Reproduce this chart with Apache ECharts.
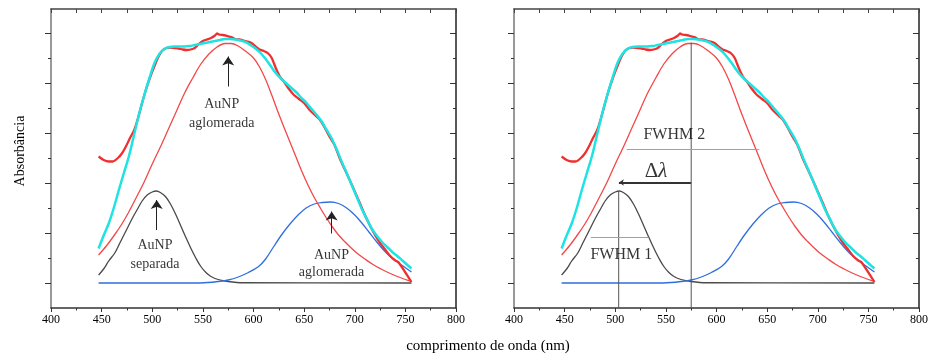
<!DOCTYPE html>
<html><head><meta charset="utf-8">
<script src="https://cdn.jsdelivr.net/npm/echarts@6/dist/echarts.min.js"></script>
<style>html,body{margin:0;padding:0;background:#fff}#c{width:936px;height:356px}</style>
</head><body><div id="c"></div>
<script>
// ---- data (wavelength nm, absorbance in arbitrary units) ----
const xTickLabels = [400, 450, 500, 550, 600, 650, 700, 750, 800];
const yMajorTicks = [0, 1, 2, 3, 4, 5];
const yMinorTicks = [0.5, 1.5, 2.5, 3.5, 4.5];

const measuredX = [447,452,457,461,466,470,474,478,482,486,490,494,498,502,506,510,514,518,522,526,530,534,538,542,546,550,554,558,562,564,566,570,574,578,582,586,590,594,598,602,606,610,614,618,622,626,630,635,640,645,650,655,660,665,670,675,680,685,690,695,700,705,710,715,720,725,730,735,740,743,756];
const measuredY = [2.53,2.46,2.43,2.43,2.50,2.59,2.73,2.90,3.05,3.30,3.60,3.88,4.12,4.33,4.52,4.65,4.70,4.71,4.70,4.69,4.67,4.66,4.67,4.70,4.78,4.84,4.87,4.90,4.95,4.99,4.97,4.96,4.94,4.92,4.88,4.87,4.85,4.83,4.80,4.73,4.67,4.64,4.60,4.50,4.30,4.13,4.03,3.88,3.76,3.68,3.60,3.47,3.37,3.28,3.12,2.93,2.76,2.50,2.28,2.06,1.83,1.60,1.36,1.15,0.96,0.80,0.67,0.54,0.45,0.42,0.02];

const fitSumX = [447,452,457,462,467,472,477,482,487,492,497,502,507,512,517,522,527,532,537,542,547,552,557,562,567,572,577,582,587,592,597,602,607,612,617,622,627,632,637,642,647,652,657,662,667,672,677,682,687,692,697,702,707,712,717,722,727,732,737,742,747,752,756];
const fitSumY = [0.69,0.95,1.19,1.50,1.86,2.20,2.54,2.96,3.38,3.75,4.08,4.39,4.58,4.68,4.72,4.73,4.73,4.73,4.74,4.76,4.78,4.80,4.82,4.84,4.86,4.88,4.88,4.87,4.85,4.82,4.76,4.69,4.60,4.48,4.34,4.20,4.09,4.00,3.91,3.82,3.71,3.61,3.49,3.37,3.24,3.07,2.90,2.68,2.43,2.20,1.96,1.72,1.48,1.28,1.08,0.94,0.82,0.72,0.62,0.54,0.45,0.36,0.29];

const aggX = [447,455,463,470,476,484,492,500,508,516,524,532,540,548,556,564,572,578,584,592,600,606,612,618,624,630,636,642,648,654,660,666,672,678,684,690,696,702,710,718,726,734,742,750,756];
const aggY = [0.56,0.75,0.97,1.18,1.39,1.70,2.02,2.38,2.72,3.08,3.44,3.80,4.10,4.38,4.58,4.72,4.79,4.79,4.75,4.64,4.50,4.32,4.07,3.76,3.43,3.12,2.82,2.52,2.22,1.95,1.71,1.50,1.30,1.12,0.96,0.83,0.71,0.60,0.48,0.37,0.28,0.20,0.13,0.07,0.03];

const sepX = [447,452,457,463,468,472,476,481,486,490,495,500,504,508,513,518,523,528,533,538,543,548,553,558,565,575,590,756];
const sepY = [0.16,0.28,0.44,0.60,0.80,0.96,1.12,1.32,1.50,1.64,1.76,1.82,1.84,1.81,1.73,1.58,1.38,1.15,0.92,0.70,0.50,0.33,0.21,0.13,0.07,0.03,0.005,0];

const agg2X = [447,540,555,565,575,585,595,605,612,620,628,636,644,652,660,668,676,684,692,700,707,714,721,728,735,742,749,756];
const agg2Y = [0,0,0.01,0.03,0.06,0.12,0.21,0.33,0.48,0.73,0.97,1.18,1.36,1.50,1.58,1.61,1.62,1.59,1.50,1.36,1.20,1.02,0.84,0.67,0.53,0.42,0.32,0.22];

// annotations (data coordinates)
const leftTexts = [[568.6,3.57,'AuNP'],[568.6,3.19,'aglomerada'],[502.7,0.76,'AuNP'],[502.7,0.37,'separada'],[677,0.56,'AuNP'],[677,0.21,'aglomerada']];
const leftArrows = [[[575,3.93],[575,4.53]],[[504.4,1.06],[504.4,1.66]],[[677.2,0.99],[677.2,1.43]]];
const rightTexts = [[558.3,2.97,'FWHM 2'],[506,0.56,'FWHM 1']];
const deltaText = [[540.2,2.23,'Δλ']];
const fwhmLines = [[[511.3,2.67],[642.3,2.67]],[[476,0.91],[532.9,0.91]]];
const peakLines = [[[503.4,-0.5],[503.4,1.83]],[[575,-0.5],[575,4.81]]];
const deltaArrow = [[[575,2.01],[503.6,2.01]]];

// ---- chart ----
const serif = "'Liberation Serif','DejaVu Serif',serif";
const pair = (xs, ys) => xs.map((x, i) => [x, ys[i]]);
const chart = echarts.init(document.getElementById('c'), null, {renderer: 'canvas'});

const grids = [
  {left: 51, top: 9, width: 405, height: 299, outerBoundsMode: 'none'},
  {left: 514, top: 9, width: 405, height: 299, outerBoundsMode: 'none'}
];
const xAxes = [], yAxes = [];
[0, 1].forEach(g => {
  xAxes.push({type: 'value', gridIndex: g, position: 'bottom', min: 400, max: 800, interval: 50,
    axisLine: {show: true, onZero: false, lineStyle: {color: '#333', width: 1.5}},
    axisTick: {show: true, length: 4, lineStyle: {color: '#333', width: 1}},
    minorTick: {show: true, splitNumber: 2, length: 2.5, lineStyle: {color: '#333', width: 1}},
    axisLabel: {show: true, customValues: xTickLabels, showMinLabel: true, showMaxLabel: true, margin: 6, fontSize: 12, color: '#000', fontFamily: serif},
    splitLine: {show: false}, minorSplitLine: {show: false}});
  xAxes.push({type: 'value', gridIndex: g, position: 'top', min: 400, max: 800, interval: 25,
    axisLine: {show: true, onZero: false, lineStyle: {color: '#444', width: 1.5}},
    axisTick: {show: true, inside: true, length: 4, lineStyle: {color: '#444', width: 1}},
    axisLabel: {show: false}, splitLine: {show: false}});
  const yAx = (pos, ticks, len, line, color) => ({type: 'value', gridIndex: g, position: pos, min: -0.5, max: 5.48,
    axisLine: {show: line, onZero: false, lineStyle: {color: color, width: 1.5}},
    axisTick: {show: true, inside: pos === 'right', length: len, customValues: ticks, lineStyle: {color: '#333', width: 1}},
    axisLabel: {show: false}, splitLine: {show: false}});
  yAxes.push(yAx('left', yMajorTicks, 6, true, '#777'));
  yAxes.push(yAx('left', yMinorTicks, 3, false, '#777'));
  yAxes.push(yAx('right', yMajorTicks, 6, true, '#222'));
  yAxes.push(yAx('right', yMinorTicks, 3, false, '#222'));
});

const series = [];
function curve(g, xs, ys, color, width, smooth, z) {
  return {type: 'line', xAxisIndex: g * 2, yAxisIndex: g * 4, data: pair(xs, ys), symbol: 'none', showSymbol: false,
    smooth: smooth, silent: true, lineStyle: {color: color, width: width}, z: z};
}
function texts(g, items, size, rich) {
  return {type: 'scatter', xAxisIndex: g * 2, yAxisIndex: g * 4, symbolSize: 0, data: items, silent: true, z: 10,
    itemStyle: {color: 'rgba(0,0,0,0)'},
    label: {show: true, position: 'inside', formatter: rich ? '{a|Δ}{b|λ}' : (p => p.data[2]),
      fontFamily: serif, fontSize: size, color: '#000', rich: rich || {}}};
}
function arrows(g, list, color, width, arrowSize) {
  return {type: 'lines', coordinateSystem: 'cartesian2d', xAxisIndex: g * 2, yAxisIndex: g * 4, silent: true, z: 6,
    symbol: ['none', 'arrow'], symbolSize: arrowSize,
    lineStyle: {color: color, width: width, opacity: 1, curveness: 0},
    data: list.map(s => ({coords: [s[0], s[1]]}))};
}
function seg(g, s, color, width) {
  return {type: 'line', xAxisIndex: g * 2, yAxisIndex: g * 4, data: s, symbol: 'none', showSymbol: false, silent: true, z: 6,
    lineStyle: {color: color, width: width}};
}
[0, 1].forEach(g => {
  series.push(curve(g, sepX, sepY, '#4a4a4a', 1.3, 0.35, 2));
  series.push(curve(g, agg2X, agg2Y, '#2f6fe0', 1.3, 0.35, 2));
  series.push(curve(g, aggX, aggY, '#f24848', 1.3, 0.35, 3));
  series.push(curve(g, measuredX, measuredY, '#ee3030', 2.3, 0.25, 4));
  series.push(curve(g, fitSumX, fitSumY, '#1ee3e3', 2.5, 0.35, 5));
});
series.push(texts(0, leftTexts, 14));
series.push(arrows(0, leftArrows, '#222', 1, [6, 9]));
peakLines.forEach(s => series.push(seg(1, s, '#555', 1)));
fwhmLines.forEach(s => series.push(seg(1, s, '#5cc889', 1)));
series.push(arrows(1, deltaArrow, '#333', 2, [4, 5]));
series.push(texts(1, rightTexts, 16));
series.push(texts(1, deltaText, 20, {a: {fontFamily: serif, fontSize: 21, color: '#000'}, b: {fontFamily: serif, fontSize: 21, fontStyle: 'italic', color: '#000'}}));

chart.setOption({
  animation: false,
  backgroundColor: '#fff',
  grid: grids,
  xAxis: xAxes,
  yAxis: yAxes,
  series: series,
  graphic: [
    {type: 'text', x: 488, y: 346, silent: true, style: {text: 'comprimento de onda (nm)', fontSize: 15, fontFamily: serif, fill: '#000', align: 'center', verticalAlign: 'middle'}},
    {type: 'text', x: 20, y: 151, rotation: Math.PI / 2, silent: true, style: {text: 'Absorbância', fontSize: 14, fontFamily: serif, fill: '#000', align: 'center', verticalAlign: 'middle'}}
  ]
});
</script></body></html>
